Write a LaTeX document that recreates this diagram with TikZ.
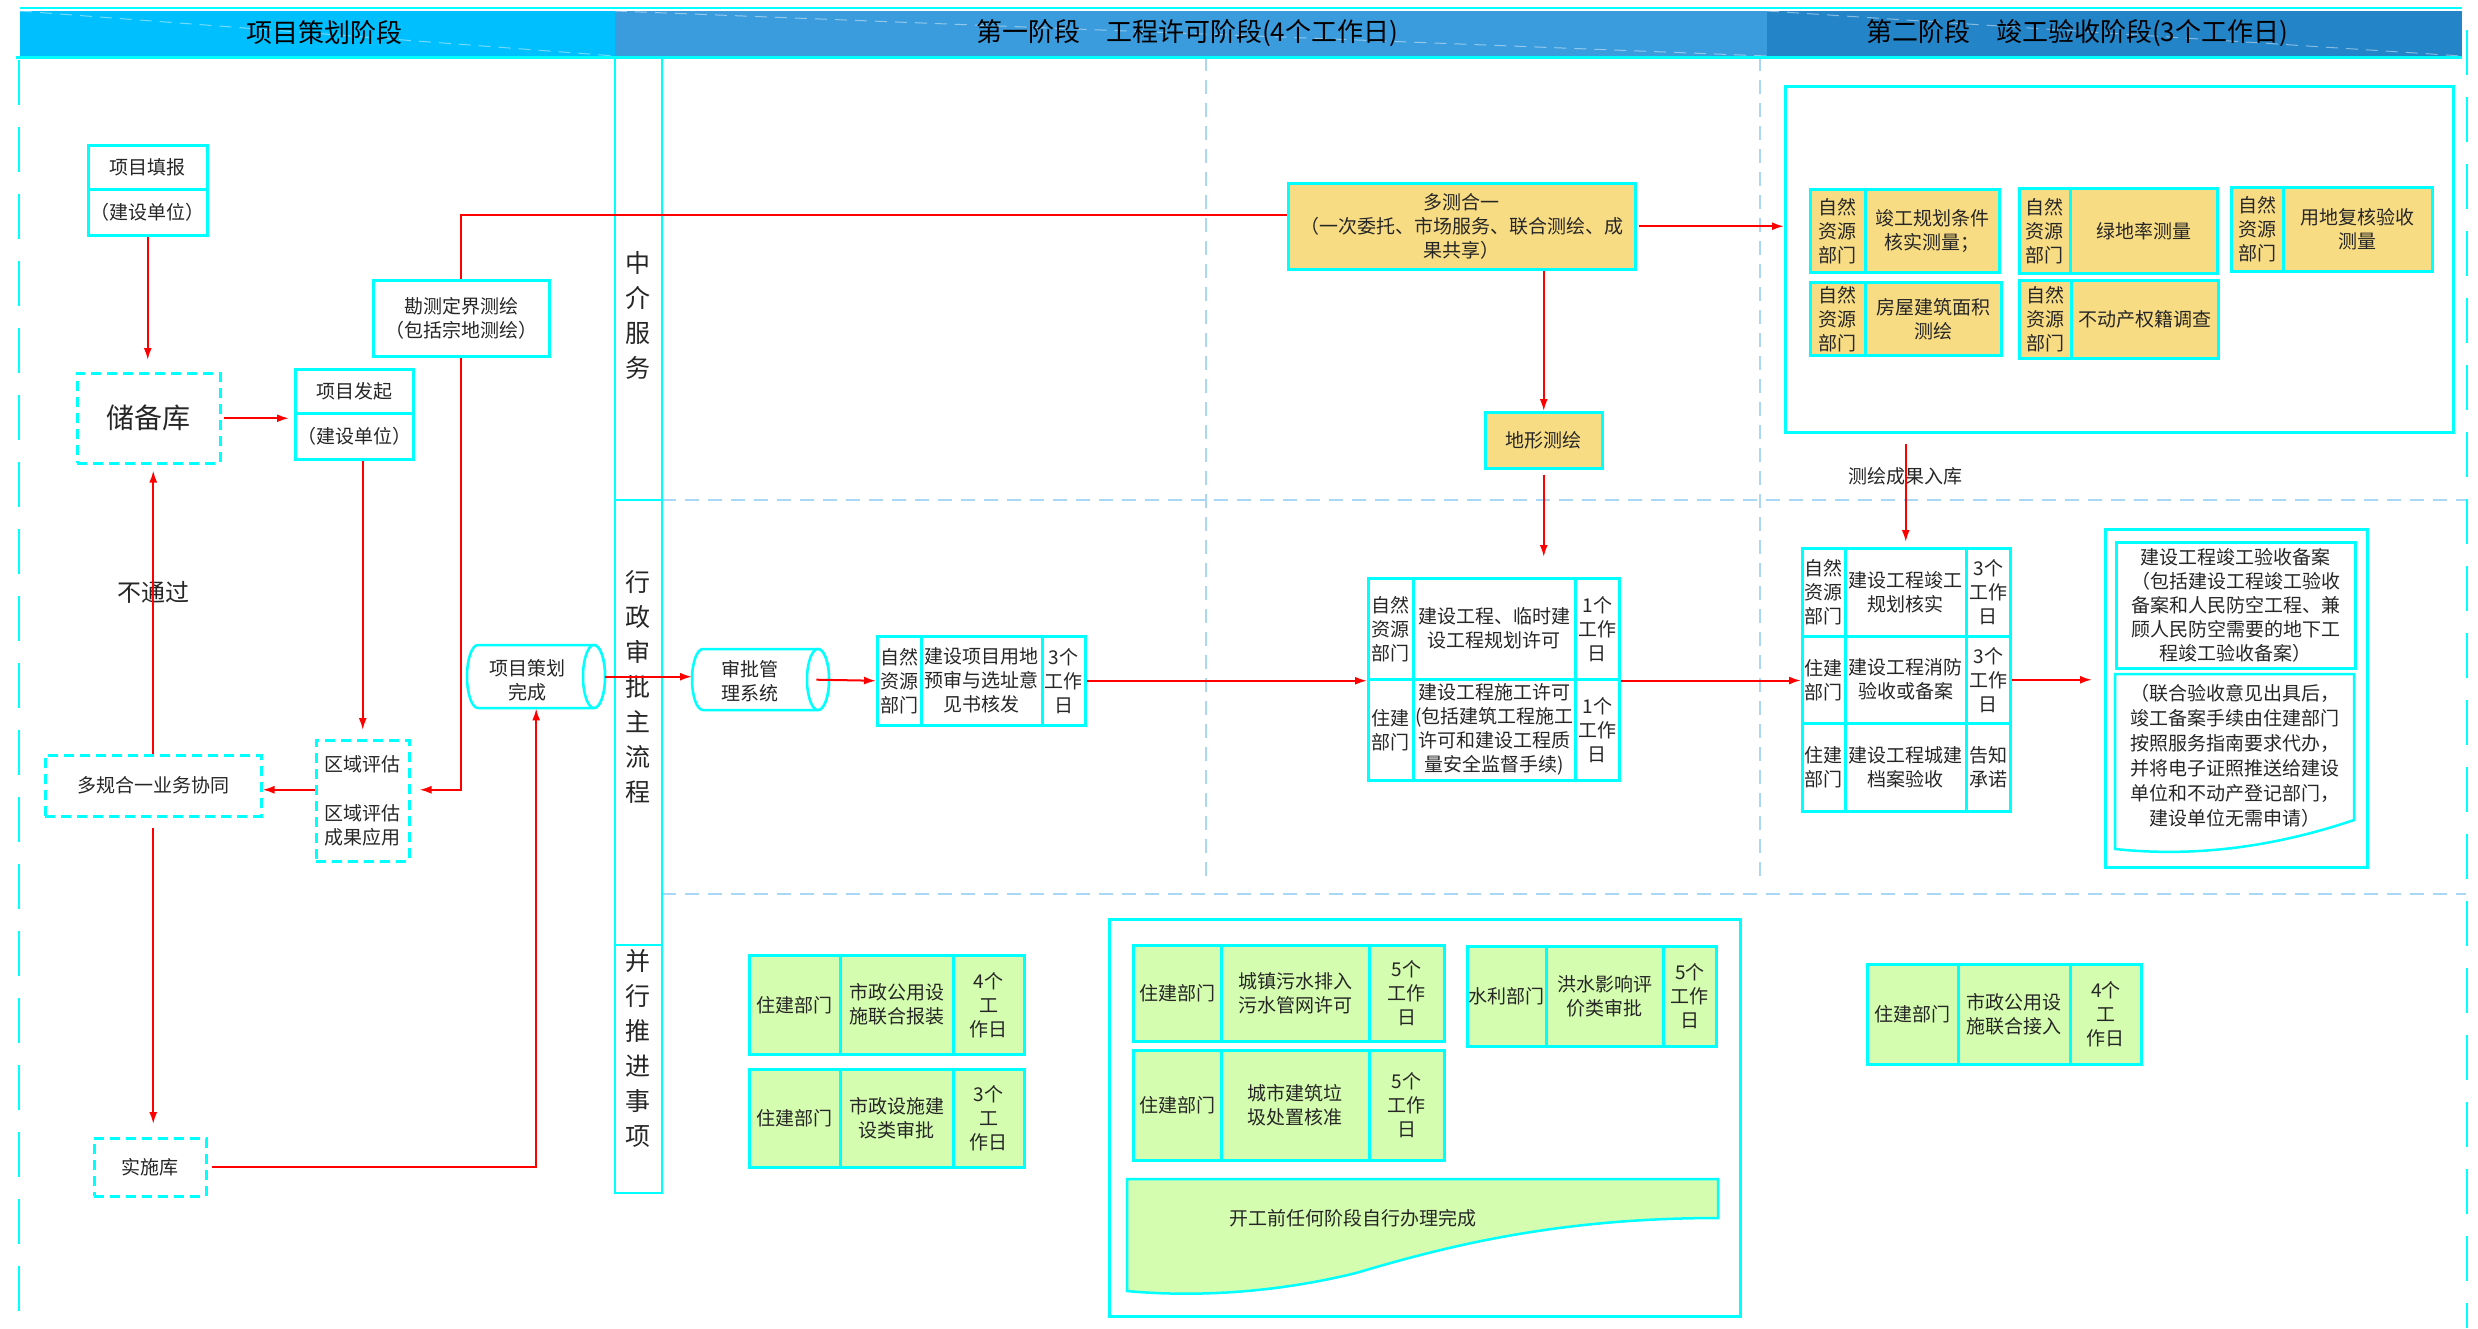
\documentclass[tikz,border=0pt]{standalone}
\usepackage{fontspec}
\newfontfamily\cjk{Noto Sans CJK SC}
\usetikzlibrary{arrows.meta,calc}
\definecolor{cyb}{HTML}{00FFFF}
\definecolor{hdA}{HTML}{00BFFF}
\definecolor{hdB}{HTML}{3A9CDD}
\definecolor{hdC}{HTML}{2384C8}
\definecolor{lblue}{HTML}{A8D8F5}
\definecolor{ylw}{HTML}{F8DC84}
\definecolor{grn}{HTML}{D5FDB0}
\tikzset{
  base/.style={font=\cjk\fontsize{19}{24}\selectfont, text=black!85},
  box/.style={base, draw=cyb, line width=2.5pt, fill=white, inner sep=0pt, align=center},
  dbox/.style={box, dash pattern=on 10pt off 6pt},
  ybox/.style={box, fill=ylw},
  gbox/.style={box, fill=grn},
  arr/.style={draw=red, line width=2pt, -{Latex[length=12pt,width=8pt]}},
  rline/.style={draw=red, line width=2pt},
  lbl/.style={base, align=center, inner sep=0pt},
  gridln/.style={draw=lblue, line width=2pt, dash pattern=on 14pt off 9pt},
  edgeln/.style={draw=cyb, line width=2.5pt, dash pattern=on 45pt off 22pt},
  cylst/.style={draw=cyb, line width=2.5pt, fill=white},
  hdtxt/.style={font=\cjk\fontsize{26}{30}\selectfont, text=black, inner sep=0pt},
  lanetxt/.style={font=\cjk\fontsize{25}{35}\selectfont, text=black!85, align=center, inner sep=0pt},
}
\newcommand\mycell[7]{\node[#1,anchor=north west,minimum width={(#5)-(#3)},minimum height={(#6)-(#4)}] (#2) at (#3,#4) {#7};}
\begin{document}
\begin{tikzpicture}[x=1pt,y=-1pt]
\useasboundingbox (0,0) rectangle (2478,1328);
% grid lines
\draw[gridln] (662,500) -- (2466,500);
\draw[gridln] (662,894) -- (2466,894);
\draw[gridln] (1206,57) -- (1206,877);
\draw[gridln] (1760,57) -- (1760,877);
\draw[edgeln] (19,60) -- (19,1328);
\draw[edgeln] (2467,30) -- (2467,1328);
% header
\fill[hdA] (20,11) rectangle (615,56);
\fill[hdB] (615,11) rectangle (1767,56);
\fill[hdC] (1767,11) rectangle (2462,56);
\draw[white, opacity=0.45, line width=1pt, dash pattern=on 12pt off 8pt] (20,11) -- (615,56) (615,11) -- (1767,56) (1767,11) -- (2462,56);
\draw[cyb, line width=2.5pt] (20,8) -- (2462,8);
\draw[cyb, line width=3pt] (16,57.5) -- (2462,57.5);
\node[hdtxt] (h1) at (324,33) {项目策划阶段};
\node[hdtxt] (h2) at (1187,33) {第一阶段　工程许可阶段(4个工作日)};
\node[hdtxt] (h3) at (2077,33) {第二阶段　竣工验收阶段(3个工作日)};
% lane column
\draw[cyb, line width=2.5pt] (615,57) rectangle (662,1193);
\draw[cyb, line width=2.5pt] (615,500) -- (662,500) (615,945) -- (662,945);
\node[lanetxt] (lane1) at (638,315) {中\\介\\服\\务};
\node[lanetxt] (lane2) at (638,687) {行\\政\\审\\批\\主\\流\\程};
\node[lanetxt] (lane3) at (638,1048) {并\\行\\推\\进\\事\\项};
% left section
\mycell{box}{tianbaoA}{87}{144}{206}{188}{项目填报}
\mycell{box}{tianbaoB}{87}{188}{206}{234}{（建设单位）}
\mycell{dbox, font=\cjk\fontsize{28}{32}\selectfont}{chubei}{76}{372}{219}{462}{储备库}
\mycell{box}{faqiA}{294}{368}{412}{412}{项目发起}
\mycell{box}{faqiB}{294}{412}{412}{458}{（建设单位）}
\mycell{box}{kance}{372}{279}{548}{355}{勘测定界测绘\\（包括宗地测绘）}
\mycell{dbox}{quyu}{315}{739}{408}{860}{区域评估\\[25pt]区域评估\\成果应用}
\mycell{dbox}{duogui}{44}{754}{260}{815}{多规合一业务协同}
\mycell{dbox}{shishi}{93}{1137}{205}{1195}{实施库}
\node[lbl, font=\cjk\fontsize{24}{28}\selectfont] (butongguo) at (153,592) {不通过};
% cylinders
\draw[cylst] (478,645) -- (594,645) arc[start angle=90, end angle=-90, x radius=11pt, y radius=31.5pt] -- (478,708) arc[start angle=270, end angle=90, x radius=11pt, y radius=31.5pt] -- cycle;
\draw[cylst] (594,676.5) ellipse [x radius=11pt, y radius=31.5pt];
\node[anchor=north west, minimum width=138pt, minimum height=63pt, inner sep=0pt] (cehua) at (467,645) {};
\node[lbl] (cehuaT) at (527,680) {项目策划\\完成};
\draw[cylst] (703,649) -- (818,649) arc[start angle=90, end angle=-90, x radius=11pt, y radius=30.5pt] -- (703,710) arc[start angle=270, end angle=90, x radius=11pt, y radius=30.5pt] -- cycle;
\draw[cylst] (818,679.5) ellipse [x radius=11pt, y radius=30.5pt];
\node[anchor=north west, minimum width=137pt, minimum height=61pt, inner sep=0pt] (shenpi) at (692,649) {};
\node[lbl] (shenpiT) at (750,681) {审批管\\理系统};
% box1
\mycell{box}{b1a}{876}{635}{920}{724}{自然\\资源\\部门}
\mycell{box}{b1b}{920}{635}{1041}{724}{建设项目用地\\预审与选址意\\见书核发}
\mycell{box}{b1c}{1041}{635}{1084}{724}{3个\\工作\\日}
% box2
\mycell{box}{b2a1}{1367}{577}{1412}{678}{自然\\资源\\部门}
\mycell{box}{b2b1}{1412}{577}{1574}{678}{建设工程、临时建\\设工程规划许可}
\mycell{box}{b2c1}{1574}{577}{1618}{678}{1个\\工作\\日}
\mycell{box}{b2a2}{1367}{678}{1412}{779}{住建\\部门}
\mycell{box}{b2b2}{1412}{678}{1574}{779}{建设工程施工许可\\(包括建筑工程施工\\许可和建设工程质\\量安全监督手续)}
\mycell{box}{b2c2}{1574}{678}{1618}{779}{1个\\工作\\日}
% box3
\mycell{box}{b3a1}{1801}{547}{1844}{635}{自然\\资源\\部门}
\mycell{box}{b3b1}{1844}{547}{1965}{635}{建设工程竣工\\规划核实}
\mycell{box}{b3c1}{1965}{547}{2009}{635}{3个\\工作\\日}
\mycell{box}{b3a2}{1801}{635}{1844}{722}{住建\\部门}
\mycell{box}{b3b2}{1844}{635}{1965}{722}{建设工程消防\\验收或备案}
\mycell{box}{b3c2}{1965}{635}{2009}{722}{3个\\工作\\日}
\mycell{box}{b3a3}{1801}{722}{1844}{810}{住建\\部门}
\mycell{box}{b3b3}{1844}{722}{1965}{810}{建设工程城建\\档案验收}
\mycell{box}{b3c3}{1965}{722}{2009}{810}{告知\\承诺}
% doc box
\mycell{box}{docbox}{2104}{528}{2366}{866}{}
\mycell{box}{docup}{2115}{541}{2354}{667}{建设工程竣工验收备案\\（包括建设工程竣工验收\\备案和人民防空工程、兼\\顾人民防空需要的地下工\\程竣工验收备案）}
\draw[cylst] (2115,674) -- (2354,674) -- (2354,820) .. controls (2280,845) and (2200,858) .. (2115,849) -- cycle;
\node[lbl, font=\cjk\fontsize{19}{25}\selectfont] (doclow) at (2235,756) {（联合验收意见出具后，\\竣工备案手续由住建部门\\按照服务指南要求代办，\\并将电子证照推送给建设\\单位和不动产登记部门，\\建设单位无需申请）};
% surveying
\mycell{ybox}{duoce}{1287}{182}{1634}{268}{多测合一\\（一次委托、市场服务、联合测绘、成\\果共享）}
\mycell{ybox}{dixing}{1484}{411}{1601}{467}{地形测绘}
\mycell{box}{cont}{1784}{85}{2452}{431}{}
\mycell{ybox}{Aa}{1809}{188}{1864}{271}{自然\\资源\\部门}
\mycell{ybox}{Ab}{1864}{188}{1998}{271}{竣工规划条件\\核实测量；}
\mycell{ybox}{Ba}{2018}{187}{2069}{272}{自然\\资源\\部门}
\mycell{ybox}{Bb}{2069}{187}{2216}{272}{绿地率测量}
\mycell{ybox}{Ca}{2230}{186}{2282}{270}{自然\\资源\\部门}
\mycell{ybox}{Cb}{2282}{186}{2431}{270}{用地复核验收\\测量}
\mycell{ybox}{Da}{1809}{281}{1864}{354}{自然\\资源\\部门}
\mycell{ybox}{Db}{1864}{281}{2000}{354}{房屋建筑面积\\测绘}
\mycell{ybox}{Ea}{2018}{279}{2070}{357}{自然\\资源\\部门}
\mycell{ybox}{Eb}{2070}{279}{2217}{357}{不动产权籍调查}
\node[lbl] (ruku) at (1905,476) {测绘成果入库};
% parallel items
\mycell{gbox}{g1a}{748}{954}{839}{1053}{住建部门}
\mycell{gbox}{g1b}{839}{954}{952}{1053}{市政公用设\\施联合报装}
\mycell{gbox}{g1c}{952}{954}{1023}{1053}{4个\\工\\作日}
\mycell{gbox}{g2a}{748}{1068}{839}{1166}{住建部门}
\mycell{gbox}{g2b}{839}{1068}{952}{1166}{市政设施建\\设类审批}
\mycell{gbox}{g2c}{952}{1068}{1023}{1166}{3个\\工\\作日}
\mycell{box}{par}{1108}{918}{1739}{1315}{}
\mycell{gbox}{g3a}{1132}{944}{1220}{1040}{住建部门}
\mycell{gbox}{g3b}{1220}{944}{1368}{1040}{城镇污水排入\\污水管网许可}
\mycell{gbox}{g3c}{1368}{944}{1443}{1040}{5个\\工作\\日}
\mycell{gbox}{g4a}{1466}{945}{1545}{1045}{水利部门}
\mycell{gbox}{g4b}{1545}{945}{1662}{1045}{洪水影响评\\价类审批}
\mycell{gbox}{g4c}{1662}{945}{1715}{1045}{5个\\工作\\日}
\mycell{gbox}{g5a}{1132}{1049}{1220}{1159}{住建部门}
\mycell{gbox}{g5b}{1220}{1049}{1368}{1159}{城市建筑垃\\圾处置核准}
\mycell{gbox}{g5c}{1368}{1049}{1443}{1159}{5个\\工作\\日}
\draw[cyb, line width=2.5pt, fill=grn] (1127,1179) -- (1718,1179) -- (1718,1218) .. controls (1560,1218) and (1450,1245) .. (1356,1273) .. controls (1262,1296) and (1180,1296) .. (1127,1291) -- cycle;
\node[lbl] (g6) at (1353,1218) {开工前任何阶段自行办理完成};
\mycell{gbox}{g7a}{1866}{963}{1957}{1063}{住建部门}
\mycell{gbox}{g7b}{1957}{963}{2069}{1063}{市政公用设\\施联合接入}
\mycell{gbox}{g7c}{2069}{963}{2140}{1063}{4个\\工\\作日}
% connectors
\draw[arr, shorten >=12pt] (tianbaoB.south) -- (tianbaoB.south |- chubei.north);
\draw[arr, shorten <=2pt, shorten >=5pt] (chubei.east) -- (chubei.east -| faqiB.west);
\draw[arr, shorten >=9pt] (quyu.north |- faqiB.south) -- (quyu.north);
\draw[rline] (kance.north) |- ($(duoce.west)+(0,-11)$);
\coordinate (qyR) at ($(quyu.east)+(0,-11)$);
\coordinate (qyL) at ($(quyu.west)+(0,-11)$);
\draw[arr, shorten >=9pt] (kance.south) |- (qyR);
\draw[arr] (qyL) -- (qyL -| duogui.east);
\draw[arr, shorten >=6pt] (duogui.north) -- (duogui.north |- chubei.south);
\draw[arr, shorten <=10pt, shorten >=13pt] (duogui.south) -- (duogui.south |- shishi.north);
\draw[arr, shorten <=4pt] (shishi.east) -| (cehua.south);
\draw[arr] (cehua.east) -- (cehua.east -| shenpi.west);
\draw[arr] ($(shenpi.east)+(-13,0)$) -- (b1a.west);
\draw[arr] (b1c.east) -- (b1c.east -| b2a1.west);
\draw[arr] (b2c1.south east) -- (b2c1.south east -| b3a2.west);
\draw[arr, shorten >=12pt] (b3c2.east) -- (b3c2.east -| docbox.west);
\draw[arr, shorten <=2pt] (duoce.east) -- (duoce.east -| cont.west);
\draw[arr] (dixing.north |- duoce.south) -- (dixing.north);
\draw[arr, shorten <=5pt, shorten >=20pt] (dixing.south) -- (dixing.south |- b2b1.north);
\draw[arr, shorten <=10pt, shorten >=5pt] (b3b1.north |- cont.south) -- (b3b1.north);
\end{tikzpicture}
\end{document}
